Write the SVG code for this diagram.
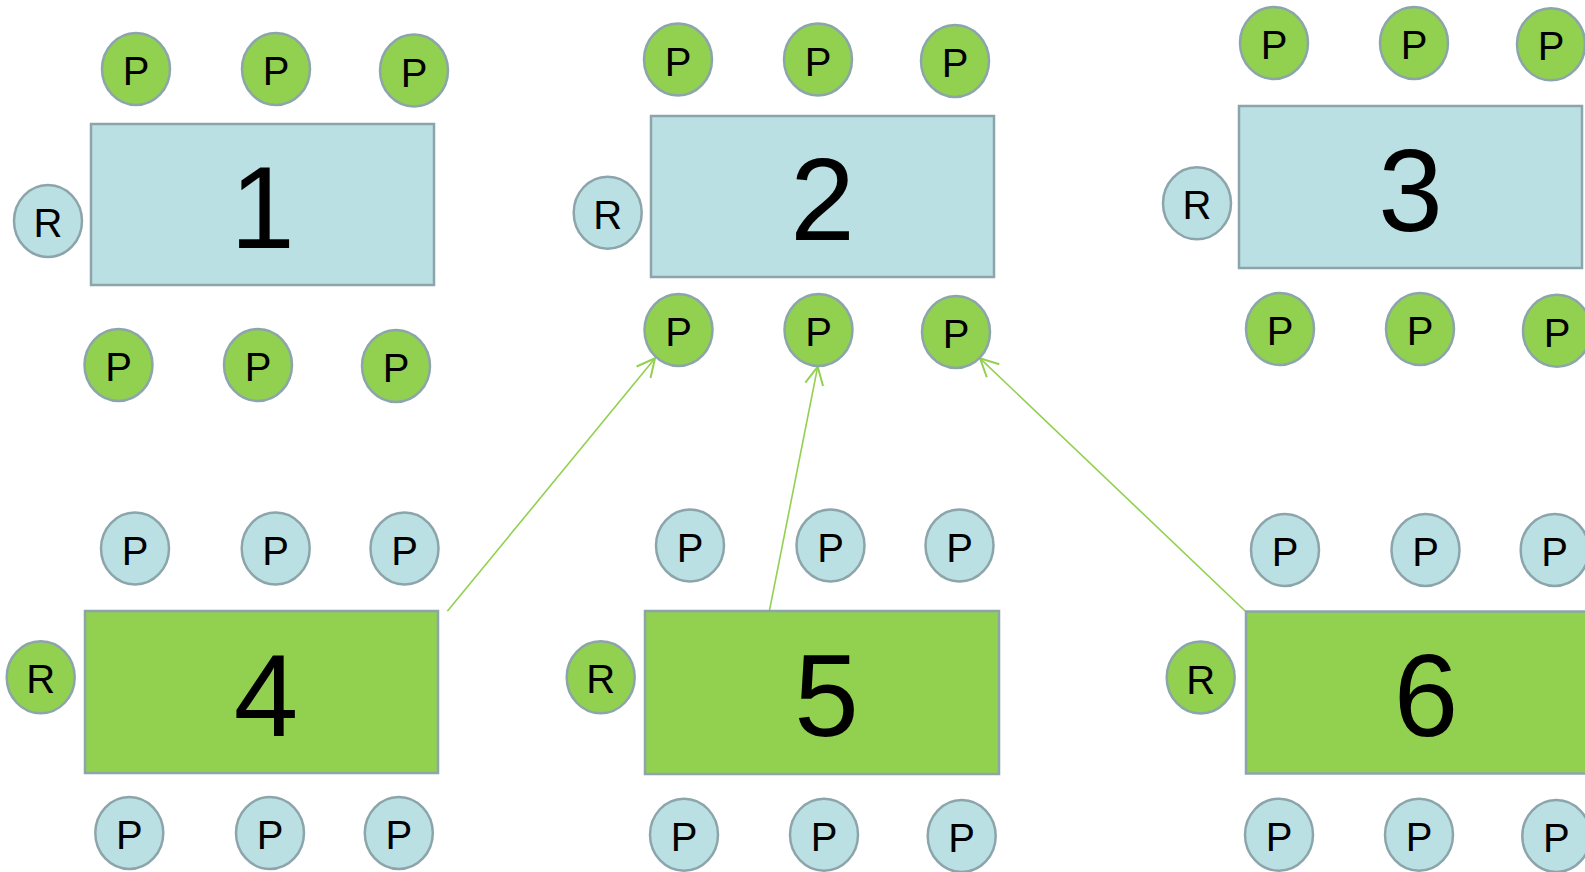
<svg xmlns="http://www.w3.org/2000/svg" width="1585" height="872" viewBox="0 0 1585 872">
<defs>
<style>
.tb{fill:#BBE0E3;stroke:#8CA5AB;stroke-width:2.5}
.tg{fill:#92D050;stroke:#8CA5AB;stroke-width:2.5}
.cb{fill:#BBE0E3;stroke:#8CA5AB;stroke-width:2.5}
.cg{fill:#92D050;stroke:#8CA5AB;stroke-width:2.5}
.pt{font-family:"Liberation Sans",Arial,sans-serif;font-size:40px;fill:#000;text-anchor:middle}
.big{font-family:"Liberation Sans",Arial,sans-serif;font-size:116px;fill:#000;text-anchor:middle}
.conn{stroke:#92D050;stroke-width:1.6;fill:none}
</style>
<marker id="arr" viewBox="-22 -12 24 24" refX="0" refY="0" markerWidth="24" markerHeight="24" orient="auto" markerUnits="userSpaceOnUse">
<path d="M-18,-9 L0,0 L-18,9" fill="none" stroke="#92D050" stroke-width="2"/>
</marker>
</defs>
<rect width="1585" height="872" fill="#FFFFFF"/>

<g id="connectors">
<line class="conn" x1="447.3" y1="611.3" x2="655" y2="358.3" marker-end="url(#arr)"/>
<line class="conn" x1="769.3" y1="611.3" x2="817.7" y2="366.7" marker-end="url(#arr)"/>
<line class="conn" x1="1245.7" y1="611.5" x2="980" y2="358.3" marker-end="url(#arr)"/>
</g>

<!-- Table 1 -->
<g id="table1"><rect class="tb" x="91" y="124" width="343" height="161"/><text class="big" x="262.5" y="248">1</text></g>
<g id="t1-r"><ellipse class="cb" cx="48" cy="221" rx="34" ry="36"/><text class="pt" x="48" y="237">R</text></g>
<g id="t1-p1"><ellipse class="cg" cx="136" cy="69" rx="34" ry="36"/><text class="pt" x="136" y="85">P</text></g>
<g id="t1-p2"><ellipse class="cg" cx="276" cy="69" rx="34" ry="36"/><text class="pt" x="276" y="85">P</text></g>
<g id="t1-p3"><ellipse class="cg" cx="414" cy="70.5" rx="34" ry="36"/><text class="pt" x="414" y="86.5">P</text></g>
<g id="t1-p4"><ellipse class="cg" cx="118.5" cy="365" rx="34" ry="36"/><text class="pt" x="118.5" y="381">P</text></g>
<g id="t1-p5"><ellipse class="cg" cx="258" cy="365" rx="34" ry="36"/><text class="pt" x="258" y="381">P</text></g>
<g id="t1-p6"><ellipse class="cg" cx="396" cy="366" rx="34" ry="36"/><text class="pt" x="396" y="382">P</text></g>

<!-- Table 2 -->
<g id="table2"><rect class="tb" x="651" y="116" width="343" height="161"/><text class="big" x="822.5" y="240">2</text></g>
<g id="t2-r"><ellipse class="cb" cx="607.7" cy="212.7" rx="34" ry="36"/><text class="pt" x="607.7" y="228.7">R</text></g>
<g id="t2-p1"><ellipse class="cg" cx="678" cy="59.5" rx="34" ry="36"/><text class="pt" x="678" y="75.5">P</text></g>
<g id="t2-p2"><ellipse class="cg" cx="818" cy="59.5" rx="34" ry="36"/><text class="pt" x="818" y="75.5">P</text></g>
<g id="t2-p3"><ellipse class="cg" cx="955" cy="61" rx="34" ry="36"/><text class="pt" x="955" y="77">P</text></g>
<g id="t2-p4"><ellipse class="cg" cx="678.5" cy="330" rx="34" ry="36"/><text class="pt" x="678.5" y="346">P</text></g>
<g id="t2-p5"><ellipse class="cg" cx="818.5" cy="330" rx="34" ry="36"/><text class="pt" x="818.5" y="346">P</text></g>
<g id="t2-p6"><ellipse class="cg" cx="956" cy="332" rx="34" ry="36"/><text class="pt" x="956" y="348">P</text></g>

<!-- Table 3 -->
<g id="table3"><rect class="tb" x="1239" y="106" width="343" height="162"/><text class="big" x="1410.5" y="231">3</text></g>
<g id="t3-r"><ellipse class="cb" cx="1197" cy="203.3" rx="34" ry="36"/><text class="pt" x="1197" y="219.3">R</text></g>
<g id="t3-p1"><ellipse class="cg" cx="1274" cy="43" rx="34" ry="36"/><text class="pt" x="1274" y="59">P</text></g>
<g id="t3-p2"><ellipse class="cg" cx="1414" cy="43" rx="34" ry="36"/><text class="pt" x="1414" y="59">P</text></g>
<g id="t3-p3"><ellipse class="cg" cx="1551" cy="44.3" rx="34" ry="36"/><text class="pt" x="1551" y="60.3">P</text></g>
<g id="t3-p4"><ellipse class="cg" cx="1280" cy="329" rx="34" ry="36"/><text class="pt" x="1280" y="345">P</text></g>
<g id="t3-p5"><ellipse class="cg" cx="1420" cy="329" rx="34" ry="36"/><text class="pt" x="1420" y="345">P</text></g>
<g id="t3-p6"><ellipse class="cg" cx="1557" cy="330.7" rx="34" ry="36"/><text class="pt" x="1557" y="346.7">P</text></g>

<!-- Table 4 -->
<g id="table4"><rect class="tg" x="85" y="611" width="353" height="162"/><text class="big" x="266" y="736">4</text></g>
<g id="t4-r"><ellipse class="cg" cx="40.7" cy="677.3" rx="34" ry="36"/><text class="pt" x="40.7" y="693.3">R</text></g>
<g id="t4-p1"><ellipse class="cb" cx="135" cy="548.5" rx="34" ry="36"/><text class="pt" x="135" y="564.5">P</text></g>
<g id="t4-p2"><ellipse class="cb" cx="275.7" cy="548.5" rx="34" ry="36"/><text class="pt" x="275.7" y="564.5">P</text></g>
<g id="t4-p3"><ellipse class="cb" cx="404.5" cy="548.5" rx="34" ry="36"/><text class="pt" x="404.5" y="564.5">P</text></g>
<g id="t4-p4"><ellipse class="cb" cx="129.3" cy="833" rx="34" ry="36"/><text class="pt" x="129.3" y="849">P</text></g>
<g id="t4-p5"><ellipse class="cb" cx="270" cy="833" rx="34" ry="36"/><text class="pt" x="270" y="849">P</text></g>
<g id="t4-p6"><ellipse class="cb" cx="398.8" cy="833" rx="34" ry="36"/><text class="pt" x="398.8" y="849">P</text></g>

<!-- Table 5 -->
<g id="table5"><rect class="tg" x="645" y="611" width="354" height="163"/><text class="big" x="826.5" y="736">5</text></g>
<g id="t5-r"><ellipse class="cg" cx="600.7" cy="677.3" rx="34" ry="36"/><text class="pt" x="600.7" y="693.3">R</text></g>
<g id="t5-p1"><ellipse class="cb" cx="690" cy="545.5" rx="34" ry="36"/><text class="pt" x="690" y="561.5">P</text></g>
<g id="t5-p2"><ellipse class="cb" cx="830.5" cy="545.5" rx="34" ry="36"/><text class="pt" x="830.5" y="561.5">P</text></g>
<g id="t5-p3"><ellipse class="cb" cx="959.5" cy="545.5" rx="34" ry="36"/><text class="pt" x="959.5" y="561.5">P</text></g>
<g id="t5-p4"><ellipse class="cb" cx="684" cy="834.7" rx="34" ry="36"/><text class="pt" x="684" y="850.7">P</text></g>
<g id="t5-p5"><ellipse class="cb" cx="824" cy="834.7" rx="34" ry="36"/><text class="pt" x="824" y="850.7">P</text></g>
<g id="t5-p6"><ellipse class="cb" cx="961.7" cy="836" rx="34" ry="36"/><text class="pt" x="961.7" y="852">P</text></g>

<!-- Table 6 -->
<g id="table6"><rect class="tg" x="1246" y="611.5" width="354" height="162"/><text class="big" x="1426" y="736">6</text></g>
<g id="t6-r"><ellipse class="cg" cx="1200.7" cy="677.5" rx="34" ry="36"/><text class="pt" x="1200.7" y="693.5">R</text></g>
<g id="t6-p1"><ellipse class="cb" cx="1285" cy="550" rx="34" ry="36"/><text class="pt" x="1285" y="566">P</text></g>
<g id="t6-p2"><ellipse class="cb" cx="1425.5" cy="550" rx="34" ry="36"/><text class="pt" x="1425.5" y="566">P</text></g>
<g id="t6-p3"><ellipse class="cb" cx="1554.7" cy="550" rx="34" ry="36"/><text class="pt" x="1554.7" y="566">P</text></g>
<g id="t6-p4"><ellipse class="cb" cx="1279" cy="834.7" rx="34" ry="36"/><text class="pt" x="1279" y="850.7">P</text></g>
<g id="t6-p5"><ellipse class="cb" cx="1419" cy="834.7" rx="34" ry="36"/><text class="pt" x="1419" y="850.7">P</text></g>
<g id="t6-p6"><ellipse class="cb" cx="1556.3" cy="836" rx="34" ry="36"/><text class="pt" x="1556.3" y="852">P</text></g>
</svg>
